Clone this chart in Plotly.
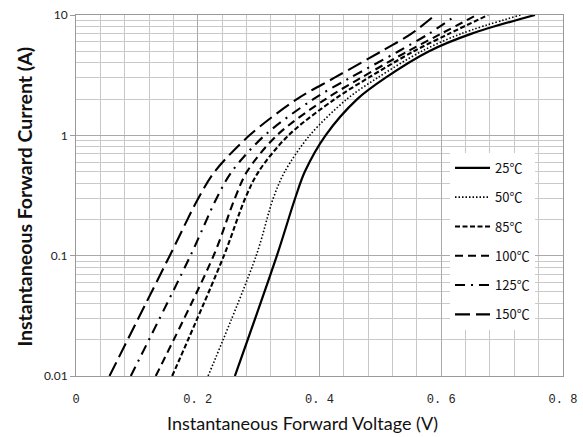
import plotly.graph_objects as go

# Forward current levels (A) at which voltages were read
current_a = [0.01, 0.1, 0.3, 0.5, 1, 2, 3, 5, 7, 10]

# Instantaneous forward voltage (V) per junction temperature
v_25 = [0.261, 0.330, 0.360, 0.376, 0.410, 0.462, 0.508, 0.580, 0.650, 0.754]
v_50 = [0.217, 0.296, 0.324, 0.343, 0.384, 0.445, 0.495, 0.568, 0.633, 0.730]
v_85 = [0.158, 0.243, 0.278, 0.300, 0.349, 0.425, 0.480, 0.555, 0.613, 0.677]
v_100 = [0.131, 0.226, 0.261, 0.281, 0.330, 0.410, 0.468, 0.545, 0.600, 0.658]
v_125 = [0.090, 0.188, 0.231, 0.256, 0.310, 0.390, 0.450, 0.530, 0.580, 0.625]
v_150 = [0.055, 0.154, 0.201, 0.228, 0.285, 0.363, 0.424, 0.502, 0.551, 0.590]

series_names = ["25℃", "50℃", "85℃", "100℃", "125℃", "150℃"]
series_volts = [v_25, v_50, v_85, v_100, v_125, v_150]
series_dash = ["solid", "1.5px,2px", "5px,2.5px", "8px,5px", "10px,6px,2px,6px", "15px,6px"]
series_width = [2.2, 1.6, 2.1, 2.1, 2.1, 2.1]

x_tickvals = [0, 0.2, 0.4, 0.6, 0.8]
x_ticktext = ["0", "0. 2", "0. 4", "0. 6", "0. 8"]
y_tickvals = [0.01, 0.1, 1, 10]
y_ticktext = ["0.01", "0.1", "1", "10"]

fig = go.Figure()
for name, volts, dash, w in zip(series_names, series_volts, series_dash, series_width):
    fig.add_trace(go.Scatter(
        x=volts, y=current_a, mode="lines", name=name, legendgroup=name,
        line=dict(color="black", width=w, dash=dash, shape="spline", smoothing=0.9),
    ))

fig.update_layout(
    width=583, height=437,
    margin=dict(l=76, r=20, t=14.5, b=61, autoexpand=False),
    paper_bgcolor="white", plot_bgcolor="white",
    showlegend=True,
    legend=dict(
        x=0.768, y=0.618, xanchor="left", yanchor="top",
        bgcolor="white", borderwidth=0,
        font=dict(family="Noto Sans CJK SC", size=13, color="#111"),
        tracegroupgap=9.4, itemwidth=35,
    ),
    xaxis=dict(
        range=[0, 0.8], tickvals=x_tickvals, ticktext=x_ticktext, automargin=False,
        showgrid=True, gridcolor="#a9a9a9", gridwidth=1,
        minor=dict(dtick=0.04, tick0=0, showgrid=True, gridcolor="#c9c9c9", gridwidth=1),
        showline=True, linecolor="#9a9a9a", linewidth=1, mirror=True,
        ticks="", ticklabelstandoff=12, zeroline=False,
        tickfont=dict(family="Liberation Mono", size=12, color="#222"),
    ),
    yaxis=dict(
        type="log", range=[-2, 1], tickvals=y_tickvals, ticktext=y_ticktext, automargin=False,
        showgrid=True, gridcolor="#a9a9a9", gridwidth=1,
        minor=dict(dtick="D1", showgrid=True, gridcolor="#c9c9c9", gridwidth=1),
        showline=True, linecolor="#9a9a9a", linewidth=1, mirror=True,
        ticks="outside", ticklen=5, tickcolor="#9a9a9a",
        tickfont=dict(family="Lato", size=12, color="#222"),
    ),
    annotations=[
        dict(text="Instantaneous Forward Voltage (V)", xref="paper", yref="paper",
             x=0.466, y=-0.130, xanchor="center", yanchor="middle", showarrow=False,
             font=dict(family="Lato", size=18, color="#111")),
        dict(text="<b>Instantaneous Forward Current (A)</b>", xref="paper", yref="paper",
             x=-0.1047, y=0.497, xanchor="center", yanchor="middle", showarrow=False,
             textangle=-90, font=dict(family="Lato", size=19.5, color="#111")),
    ],
)

fig.write_html("out.html")
